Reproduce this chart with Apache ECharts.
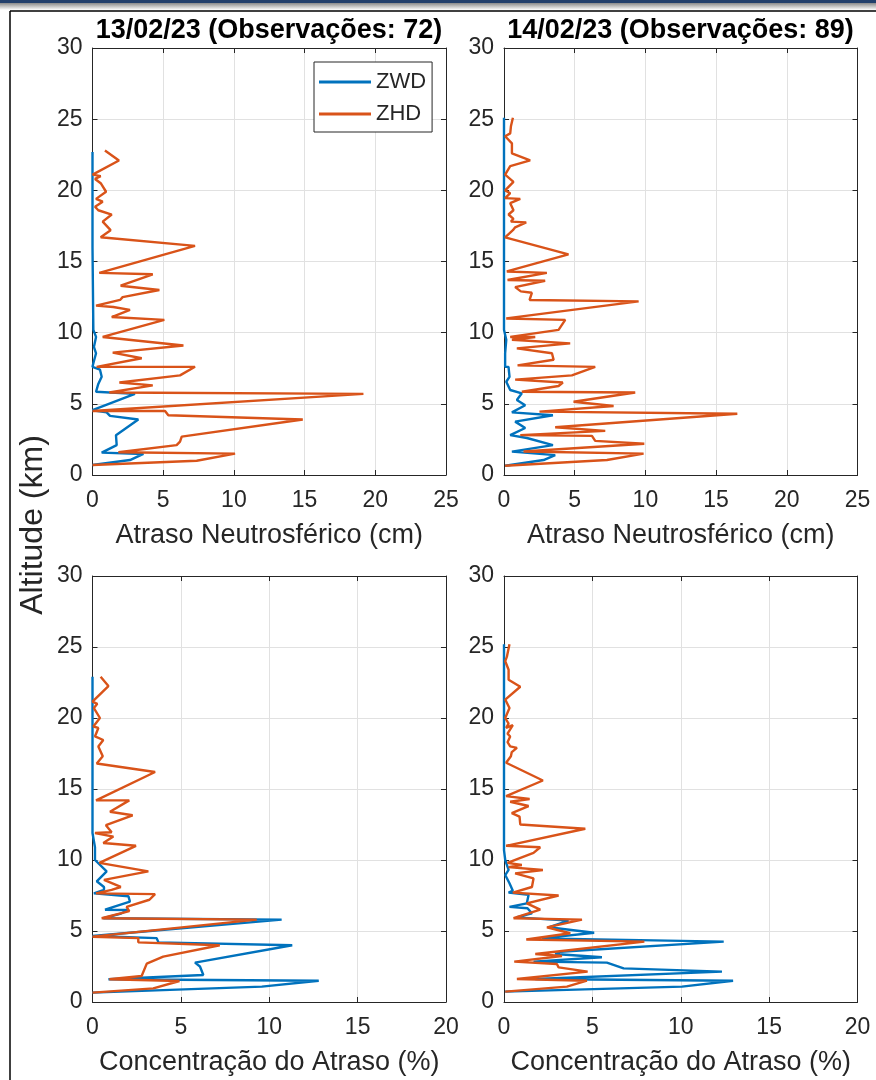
<!DOCTYPE html>
<html>
<head>
<meta charset="utf-8">
<title>Atraso Neutrosférico</title>
<script src="https://cdn.jsdelivr.net/npm/echarts@6.0.0/dist/echarts.min.js"></script>
<style>
html, body { margin: 0; padding: 0; background: #fff; }
#grafico { width: 876px; height: 1080px; }
</style>
</head>
<body>
<div id="grafico"></div>
<script>
var titulos = ['13/02/23 (Observações: 72)', '14/02/23 (Observações: 89)'];
var series_nomes = ['ZWD', 'ZHD'];
var ticksAltitude = [0, 5, 10, 15, 20, 25, 30];

// 13/02/23 - atraso (cm)
var p1ZwdX = [0, 0, 0.06, 0.25, 0.1, 0.25, 0.06, 0, 0.53, 0.65, 0.41, 0.25, 3.0, 0, 1.0, 1.24, 3.24, 1.66, 1.71, 0.65, 3.6, 2.65, 0];
var p1ZwdY = [22.7, 16, 10.2, 9.7, 9.0, 8.55, 7.85, 7.6, 7.4, 6.9, 6.4, 5.85, 5.7, 4.55, 4.4, 4.15, 3.9, 2.8, 2.1, 1.57, 1.48, 1.05, 0.7];
var p1ZhdX = [0.88, 1.87, 0.01, 0.58, 0.18, 0.58, 0.96, 0.25, 0.72, 0.18, 0.41, 1.36, 0.72, 1.28, 0.58, 7.25, 0.48, 4.26, 1.99, 4.73, 2.13, 1.95, 0.25, 1.47, 2.65, 1.36, 5.08, 0.72, 6.43, 1.43, 3.48, 0.29, 7.25, 6.19, 1.9, 4.26, 1.19, 19.16, 0, 5.13, 5.36, 14.87, 6.31, 6.19, 5.95, 1.83, 10.08, 7.37, 0];
var p1ZhdY = [22.8, 22.1, 21.1, 21.0, 20.8, 20.5, 19.9, 19.4, 19.2, 18.85, 18.6, 18.3, 17.8, 17.2, 16.7, 16.1, 14.2, 14.1, 13.3, 13.0, 12.5, 12.3, 11.9, 11.8, 11.6, 11.1, 10.9, 9.7, 9.1, 8.6, 8.2, 7.6, 7.6, 7.0, 6.5, 6.3, 5.8, 5.7, 4.5, 4.5, 4.2, 3.9, 2.7, 2.35, 2.1, 1.6, 1.5, 1.0, 0.7];

// 14/02/23 - atraso (cm)
var p2ZwdX = [0, 0, 0.16, 0.08, 0.08, 0.32, 0.39, 0.16, 0.44, 1.26, 0.91, 1.5, 0.56, 3.46, 0.79, 1.5, 0.44, 1.62, 3.46, 0.56, 3.62, 2.8, 0.08];
var p2ZwdY = [25.1, 10.2, 9.5, 8.55, 7.6, 7.6, 6.9, 6.55, 5.97, 5.74, 5.27, 4.9, 4.4, 4.2, 3.75, 3.3, 2.8, 2.6, 2.1, 1.64, 1.4, 1.05, 0.65];
var p2ZhdX = [0.63, 0.49, 0.44, 0.08, 0.56, 0.56, 1.85, 0.44, 0.08, 0.67, 0.08, 0.44, 0.08, 1.15, 0.44, 0.67, 0.32, 0.67, 0.49, 1.57, 0.79, 0.63, 0.08, 4.56, 0.2, 3.03, 0.25, 2.91, 0.79, 1.19, 1.97, 1.81, 9.52, 0.16, 4.33, 3.86, 0.44, 2.21, 0.56, 4.68, 0.91, 3.39, 3.51, 0.96, 6.45, 4.8, 0.79, 4.16, 3.86, 1.26, 9.28, 4.92, 7.75, 2.51, 16.5, 3.62, 7.16, 1.15, 6.22, 6.45, 9.92, 1.38, 9.87, 7.28, 0.08];
var p2ZhdY = [25.1, 24.5, 24.0, 23.8, 23.3, 22.6, 22.1, 21.7, 21.1, 20.6, 20.0, 19.8, 19.45, 19.4, 19.1, 18.6, 18.3, 18.0, 17.8, 17.75, 17.4, 17.2, 16.7, 15.5, 14.3, 14.2, 13.7, 13.65, 13.2, 12.9, 12.8, 12.3, 12.2, 11.0, 10.9, 10.2, 9.7, 9.7, 9.5, 9.25, 8.9, 8.55, 8.1, 7.7, 7.6, 7.0, 6.7, 6.5, 6.25, 5.85, 5.8, 5.15, 4.85, 4.45, 4.3, 3.35, 3.1, 2.8, 2.75, 2.4, 2.2, 1.65, 1.5, 1.05, 0.65];

// 13/02/23 - concentração (%)
var p3ZwdX = [0, 0, 0.14, 0.14, 0.8, 0.24, 0.65, 0.65, 0.08, 2.03, 2.12, 0.71, 2.03, 1.56, 0.61, 10.7, 0, 3.63, 3.73, 11.3, 5.8, 6.08, 6.27, 0.9, 12.8, 9.58, 0];
var p3ZwdY = [22.9, 11.9, 10.9, 10.0, 9.2, 8.5, 8.1, 7.9, 7.65, 7.45, 7.07, 6.5, 6.48, 6.2, 5.9, 5.8, 4.65, 4.5, 4.2, 4.0, 2.77, 2.5, 1.9, 1.6, 1.5, 1.08, 0.66];
var p3ZhdX = [0.46, 0.9, 0, 0.27, 0.08, 0.42, 0.05, 0.33, 0.14, 0.61, 0.33, 0.58, 0.24, 3.54, 0.2, 2.08, 0.99, 2.27, 0.76, 1.08, 0.14, 1.18, 0.61, 2.46, 0.39, 3.16, 0.65, 1.6, 1.08, 0.2, 3.54, 3.22, 1.93, 2.08, 0.52, 9.29, 0, 2.59, 2.59, 7.2, 4.0, 3.07, 2.78, 0.95, 4.92, 3.44, 0];
var p3ZhdY = [22.9, 22.25, 21.15, 21.0, 20.7, 20.0, 19.4, 19.3, 18.7, 18.45, 18.0, 17.3, 16.8, 16.2, 14.2, 14.2, 13.4, 13.15, 12.45, 11.95, 11.9, 11.65, 11.2, 11.0, 9.8, 9.2, 8.6, 8.1, 7.9, 7.65, 7.6, 7.2, 6.7, 6.4, 5.9, 5.8, 4.6, 4.5, 4.2, 4.0, 3.2, 2.7, 1.83, 1.6, 1.48, 0.96, 0.66];

// 14/02/23 - concentração (%)
var p4ZwdX = [0, 0, 0.07, 0.26, 0.07, 0.31, 0.5, 0.26, 1.39, 1.29, 0.31, 1.33, 1.58, 0.69, 3.65, 2.52, 5.1, 2.14, 12.43, 3.18, 2.9, 5.54, 1.67, 5.82, 6.77, 12.33, 1.77, 12.96, 10.07, 0.07];
var p4ZwdY = [25.2, 10.7, 10.0, 9.3, 8.94, 8.36, 7.84, 7.7, 7.54, 6.95, 6.7, 6.6, 6.24, 5.96, 5.73, 5.26, 4.88, 4.48, 4.25, 3.54, 3.38, 3.15, 2.84, 2.77, 2.37, 2.14, 1.62, 1.5, 1.08, 0.73];
var p4ZhdX = [0.31, 0.16, 0.07, 0.26, 0.26, 0.92, 0.07, 0.31, 0.07, 0.26, 0.12, 0.5, 0.2, 0.35, 0.2, 0.35, 0.73, 0.44, 0.39, 0.12, 2.2, 0.12, 1.45, 0.35, 1.39, 0.44, 0.88, 0.92, 4.6, 0.12, 2.05, 1.67, 0.82, 0.2, 1.01, 0.26, 2.2, 0.63, 1.67, 1.58, 0.5, 3.09, 1.29, 2.05, 0.54, 4.41, 2.43, 3.75, 1.26, 7.94, 1.77, 3.28, 0.58, 2.99, 3.09, 4.73, 0.73, 4.69, 3.56, 0.07];
var p4ZhdY = [25.2, 24.3, 24.0, 23.4, 22.7, 22.2, 21.3, 20.7, 20.0, 19.6, 19.3, 19.5, 18.9, 18.7, 18.3, 18.0, 17.9, 17.6, 17.3, 16.85, 15.6, 14.5, 14.3, 14.1, 13.8, 13.3, 13.05, 12.5, 12.2, 11.0, 10.9, 10.5, 10.1, 9.8, 9.65, 9.5, 9.3, 9.06, 8.7, 8.1, 7.7, 7.5, 6.95, 6.5, 5.9, 5.8, 5.26, 4.84, 4.4, 4.25, 3.38, 3.24, 2.84, 2.68, 2.44, 2.14, 1.62, 1.5, 1.08, 0.73];

var fonte = '"Liberation Sans", Arial, Helvetica, sans-serif';
var corTexto = '#262626';
var corEixo = '#262626';
var corGrade = '#e1e1e1';
var azul = '#0072BD';
var laranja = '#D95319';

function pares(xs, ys) {
	var d = [];
	for (var i = 0; i < xs.length; i++) {
		d.push([xs[i], ys[i]]);
	}
	return d;
}

var grids = [
	{ left: 92.5, top: 48, width: 353.5, height: 427 },
	{ left: 504, top: 48, width: 353.5, height: 427 },
	{ left: 92.5, top: 576, width: 353.5, height: 426 },
	{ left: 504, top: 576, width: 353.5, height: 426 }
];
var xMax = [25, 25, 20, 20];
var xNomes = ['Atraso Neutrosférico (cm)', 'Atraso Neutrosférico (cm)', 'Concentração do Atraso (%)', 'Concentração do Atraso (%)'];
var dados = [
	[pares(p1ZwdX, p1ZwdY), pares(p1ZhdX, p1ZhdY)],
	[pares(p2ZwdX, p2ZwdY), pares(p2ZhdX, p2ZhdY)],
	[pares(p3ZwdX, p3ZwdY), pares(p3ZhdX, p3ZhdY)],
	[pares(p4ZwdX, p4ZwdY), pares(p4ZhdX, p4ZhdY)]
];

var xAxis = [], yAxis = [], series = [];
for (var i = 0; i < 4; i++) {
	// eixo de baixo com rótulos
	xAxis.push({
		gridIndex: i, type: 'value', min: 0, max: xMax[i], interval: 5, position: 'bottom',
		name: xNomes[i], nameLocation: 'middle', nameGap: 47,
		nameTextStyle: { fontSize: 27, color: corTexto, fontFamily: fonte },
		axisLine: { show: true, onZero: false, lineStyle: { color: corEixo, width: 1 } },
		axisTick: { show: true, inside: true, length: 5, lineStyle: { color: corEixo } },
		axisLabel: { fontSize: 23, color: corTexto, margin: 14, fontFamily: fonte },
		splitLine: { show: true, lineStyle: { color: corGrade, width: 1 } }
	});
	// eixo de cima (só a caixa)
	xAxis.push({
		gridIndex: i, type: 'value', min: 0, max: xMax[i], interval: 5, position: 'top',
		axisLine: { show: true, onZero: false, lineStyle: { color: corEixo, width: 1 } },
		axisTick: { show: true, inside: true, length: 5, lineStyle: { color: corEixo } },
		axisLabel: { show: false },
		splitLine: { show: false }
	});
	yAxis.push({
		gridIndex: i, type: 'value', min: 0, max: 30, interval: 5, position: 'left',
		axisLine: { show: true, onZero: false, lineStyle: { color: corEixo, width: 1 } },
		axisTick: { show: true, inside: true, length: 5, lineStyle: { color: corEixo } },
		axisLabel: { fontSize: 23, color: corTexto, margin: 10, fontFamily: fonte },
		splitLine: { show: true, lineStyle: { color: corGrade, width: 1 } }
	});
	yAxis.push({
		gridIndex: i, type: 'value', min: 0, max: 30, interval: 5, position: 'right',
		axisLine: { show: true, onZero: false, lineStyle: { color: corEixo, width: 1 } },
		axisTick: { show: true, inside: true, length: 5, lineStyle: { color: corEixo } },
		axisLabel: { show: false },
		splitLine: { show: false }
	});
	series.push({
		name: series_nomes[0], type: 'line', xAxisIndex: i * 2, yAxisIndex: i * 2,
		data: dados[i][0], symbol: 'none', color: azul,
		lineStyle: { color: azul, width: 2.4 }, animation: false
	});
	series.push({
		name: series_nomes[1], type: 'line', xAxisIndex: i * 2, yAxisIndex: i * 2,
		data: dados[i][1], symbol: 'none', color: laranja,
		lineStyle: { color: laranja, width: 2.4 }, animation: false
	});
}

var myChart = echarts.init(document.getElementById('grafico'));
var option = {
	backgroundColor: '#fff',
	animation: false,
	grid: grids,
	xAxis: xAxis,
	yAxis: yAxis,
	legend: {
		data: series_nomes, orient: 'vertical', left: 314, top: 62,
		icon: 'rect', itemWidth: 52, itemHeight: 3, itemGap: 10,
		padding: [9, 6, 7, 5],
		backgroundColor: '#fff', borderColor: corEixo, borderWidth: 1,
		textStyle: { fontSize: 22, color: corTexto, fontFamily: fonte }
	},
	graphic: [
		// moldura da janela
		{ type: 'rect', shape: { x: 0, y: 0, width: 876, height: 3 }, style: { fill: '#223f6b' }, silent: true },
		{ type: 'rect', shape: { x: 0, y: 3, width: 876, height: 7 },
			style: { fill: new echarts.graphic.LinearGradient(0, 0, 0, 1, [{ offset: 0, color: '#8a8a8a' }, { offset: 1, color: '#ffffff' }]) }, silent: true },
		{ type: 'line', shape: { x1: 10, y1: 11, x2: 876, y2: 11 }, style: { stroke: '#000', lineWidth: 1.5 }, silent: true },
		{ type: 'line', shape: { x1: 10, y1: 11, x2: 10, y2: 1080 }, style: { stroke: '#000', lineWidth: 1.5 }, silent: true },
		// títulos
		{ type: 'text', x: 269, y: 31, style: { text: titulos[0], fontSize: 27, fontWeight: 'bold', fill: '#000', fontFamily: fonte, align: 'center', verticalAlign: 'middle' } },
		{ type: 'text', x: 680.5, y: 31, style: { text: titulos[1], fontSize: 27, fontWeight: 'bold', fill: '#000', fontFamily: fonte, align: 'center', verticalAlign: 'middle' } },
		{ type: 'text', x: 33, y: 525, rotation: Math.PI / 2, style: { text: 'Altitude (km)', fontSize: 32, fill: corTexto, fontFamily: fonte, align: 'center', verticalAlign: 'middle' } }
	],
	series: series
};
myChart.setOption(option);
</script>
</body>
</html>
